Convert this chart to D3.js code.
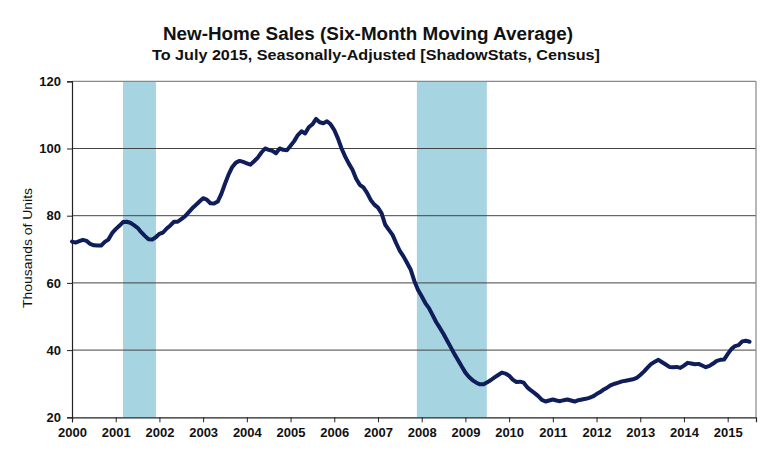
<!DOCTYPE html>
<html><head><meta charset="utf-8">
<script src="https://cdn.jsdelivr.net/npm/d3@7/dist/d3.min.js"></script>
<style>body{margin:0;background:#fff}svg{display:block}text{font-family:Arial,"Liberation Sans",sans-serif}</style>
</head><body><svg id="c" width="781" height="461"></svg>
<script>
// Monthly six-month moving average of new-home sales, thousands of units, Jan 2000 .. Jul 2015
const startYear = 2000;
const values = [
 72.3,72.0,72.4,72.8,72.5,71.6,71.2,71.1,71.1,72.2,72.9,74.8,
 76.0,77.0,78.1,78.2,77.9,77.2,76.4,75.1,74.0,73.0,72.9,73.6,
 74.6,75.0,76.2,77.1,78.2,78.2,79.0,79.8,81.0,82.2,83.2,84.2,
 85.2,84.8,83.7,83.6,84.2,86.5,89.5,92.3,94.5,95.8,96.3,96.0,
 95.6,95.2,96.2,97.3,98.8,100.0,99.6,99.3,98.6,100.0,99.6,99.5,
 100.8,102.2,104.0,105.1,104.5,106.3,107.2,108.8,107.8,107.5,108.1,107.2,
 105.5,103.0,100.0,97.6,95.5,93.7,91.0,89.2,88.4,86.8,84.7,83.3,
 82.4,80.7,77.3,75.8,74.3,71.8,69.5,67.9,65.9,63.9,60.5,57.9,
 56.0,54.0,52.5,50.4,48.3,46.6,44.8,42.8,40.8,38.8,37.0,35.1,
 33.3,32.0,31.0,30.3,29.8,29.8,30.4,31.1,31.9,32.6,33.3,33.0,
 32.4,31.2,30.5,30.6,30.3,28.9,28.0,27.2,26.3,25.2,24.7,25.0,
 25.3,25.0,24.8,25.1,25.3,25.0,24.7,25.1,25.3,25.5,25.8,26.2,
 26.9,27.5,28.3,28.9,29.6,30.0,30.3,30.7,30.9,31.1,31.3,31.7,
 32.6,33.6,34.8,35.9,36.5,37.1,36.4,35.7,35.0,34.9,35.0,34.7,
 35.4,36.2,36.0,35.8,35.9,35.4,34.9,35.3,36.0,36.8,37.1,37.2,
 38.8,40.3,41.2,41.5,42.6,42.8,42.5
];
const yearTicks = [2000,2001,2002,2003,2004,2005,2006,2007,2008,2009,2010,2011,2012,2013,2014,2015];
const yTicks = [20,40,60,80,100,120];
// Recessions as [start, end] in fractional years
const recessions = [[2001.167,2001.92],[2007.89,2009.49]];
const title = "New-Home Sales (Six-Month Moving Average)";
const subtitle = "To July 2015, Seasonally-Adjusted [ShadowStats, Census]";
const yLabel = "Thousands of Units";

const svg = d3.select("#c");
const L=72, R=756, T=81.3, B=417.3;
const x = d3.scaleLinear().domain([2000, 2015.648]).range([L,R]);
const y = d3.scaleLinear().domain([20,120]).range([B,T]);

// recession shading
svg.selectAll("rect.rec").data(recessions).join("rect")
  .attr("x",d=>x(d[0])).attr("width",d=>x(d[1])-x(d[0]))
  .attr("y",T).attr("height",B-T).attr("fill","#a6d4e0");

// gridlines
svg.selectAll("line.grid").data(yTicks.filter(v=>v>20&&v<120)).join("line")
  .attr("x1",L).attr("x2",R).attr("y1",d=>y(d)).attr("y2",d=>y(d))
  .attr("stroke","#444").attr("stroke-width",1);
// top & right border
svg.append("line").attr("x1",L).attr("x2",R).attr("y1",T).attr("y2",T).attr("stroke","#888").attr("stroke-width",1.2);
svg.append("line").attr("x1",R).attr("x2",R).attr("y1",T).attr("y2",B).attr("stroke","#888").attr("stroke-width",1.2);

// axes
const yAxis = d3.axisLeft(y).tickValues(yTicks).tickSize(5).tickPadding(6);
const gy = svg.append("g").attr("transform",`translate(${L},0)`).call(yAxis);
gy.select(".domain").attr("stroke","#222").attr("stroke-width",1.2);
gy.selectAll(".tick line").attr("stroke","#222");
gy.selectAll("text").attr("font-size",13).attr("font-weight","bold").attr("fill","#111");

const xAxis = d3.axisBottom(x).tickValues(yearTicks).tickFormat(d3.format("d")).tickSize(5).tickPadding(5);
const gx = svg.append("g").attr("transform",`translate(0,${B})`).call(xAxis);
gx.select(".domain").attr("stroke","#222").attr("stroke-width",1.2);
gx.selectAll(".tick line").attr("stroke","#222");
gx.selectAll("text").attr("font-size",13).attr("font-weight","bold").attr("fill","#111");

// line
const line = d3.line().x((d,i)=>x(startYear + i/12)).y(d=>y(d)).curve(d3.curveLinear);
svg.append("path").datum(values).attr("d",line).attr("fill","none")
  .attr("stroke","#0f1d5a").attr("stroke-width",4).attr("stroke-linejoin","round").attr("stroke-linecap","round");

// titles
svg.append("text").attr("x",163).attr("y",40).attr("font-size",18).attr("font-weight","bold")
  .attr("textLength",410).attr("lengthAdjust","spacingAndGlyphs").attr("fill","#111").text(title);
svg.append("text").attr("x",152).attr("y",59.5).attr("font-size",15).attr("font-weight","bold")
  .attr("textLength",448).attr("lengthAdjust","spacingAndGlyphs").attr("fill","#111").text(subtitle);
svg.append("text").attr("transform","translate(32,248) rotate(-90)").attr("text-anchor","middle")
  .attr("font-size",13).attr("textLength",120).attr("lengthAdjust","spacingAndGlyphs").attr("fill","#111").text(yLabel);
</script></body></html>
